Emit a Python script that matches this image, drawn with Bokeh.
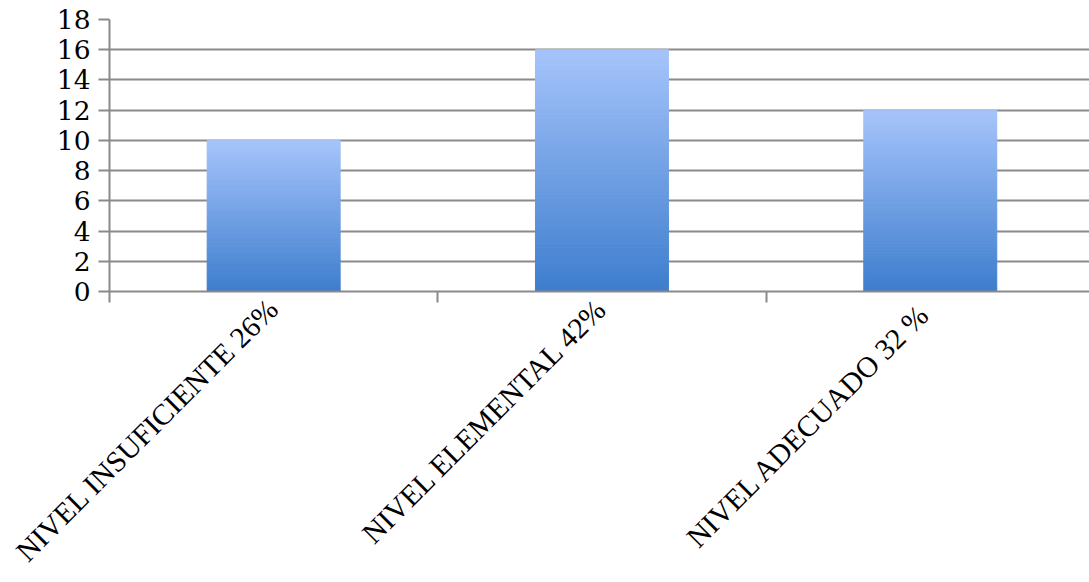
from math import pi
from bokeh.plotting import figure
from bokeh.models import Range1d, FixedTicker
from bokeh.embed import file_html
from bokeh.resources import INLINE

# ---- data ----
categories = ["NIVEL INSUFICIENTE 26%", "NIVEL ELEMENTAL 42%", "NIVEL ADECUADO  32 %"]
values = [10, 16, 12]
y_ticks = [0, 2, 4, 6, 8, 10, 12, 14, 16, 18]

# ---- style ----
BOTTOM = (61, 125, 205)
TOP = (166, 196, 251)
N_SLICES = 60
BAR_W = 0.405
GRID = "#8a8a8a"

def lerp(a, b, t):
    return "#%02x%02x%02x" % tuple(int(round(a[i] + (b[i] - a[i]) * t)) for i in range(3))

p = figure(width=1089, height=582, output_backend="svg", toolbar_location=None,
           x_range=Range1d(0, 2.985), y_range=Range1d(0, 18),
           min_border_left=109, min_border_top=19, min_border_right=0,
           min_border_bottom=291)
p.outline_line_color = None
p.background_fill_color = "white"
p.border_fill_color = "white"

# gradient bars via stacked slices
left, right, bottom, top, colors = [], [], [], [], []
for i, v in enumerate(values):
    cx = i + 0.5
    for k in range(N_SLICES):
        left.append(cx - BAR_W / 2)
        right.append(cx + BAR_W / 2)
        bottom.append(v * k / N_SLICES)
        top.append(v * (k + 1) / N_SLICES)
        colors.append(lerp(BOTTOM, TOP, (k + 0.5) / N_SLICES))
p.quad(left=left, right=right, bottom=bottom, top=top, fill_color=colors,
       line_color=colors, line_width=1)

# y axis
p.yaxis.ticker = FixedTicker(ticks=y_ticks)
p.yaxis.axis_line_color = GRID
p.yaxis.axis_line_width = 2
p.yaxis.major_tick_line_color = GRID
p.yaxis.major_tick_line_width = 2
p.yaxis.major_tick_out = 11
p.yaxis.major_tick_in = 0
p.yaxis.minor_tick_line_color = None
p.yaxis.major_label_text_font = "DejaVu Serif"
p.yaxis.major_label_text_font_size = "26.5px"
p.yaxis.major_label_text_color = "#000000"
p.yaxis.major_label_standoff = 8

p.ygrid.ticker = FixedTicker(ticks=y_ticks)
p.ygrid.grid_line_color = GRID
p.ygrid.grid_line_width = 2
p.xgrid.grid_line_color = None

# x axis: labels at centers, ticks at category boundaries (minor ticks)
centers = [i + 0.5 for i in range(len(categories))]
bounds = [float(i) for i in range(len(categories) + 1)]
p.xaxis.ticker = FixedTicker(ticks=centers, minor_ticks=bounds)
p.xaxis.major_label_overrides = {c: lab for c, lab in zip(centers, categories)}
p.xaxis.axis_line_color = GRID
p.xaxis.axis_line_width = 2
p.xaxis.major_tick_line_color = None
p.xaxis.major_tick_out = 0
p.xaxis.major_tick_in = 0
p.xaxis.minor_tick_line_color = GRID
p.xaxis.minor_tick_line_width = 2
p.xaxis.minor_tick_out = 11
p.xaxis.minor_tick_in = 0
p.xaxis.major_label_orientation = pi / 4
p.xaxis.major_label_text_font = "Liberation Serif"
p.xaxis.major_label_text_font_size = "29.5px"
p.xaxis.major_label_text_color = "#000000"
p.xaxis.major_label_standoff = 1

open("out.html", "w").write(file_html(p, INLINE))
